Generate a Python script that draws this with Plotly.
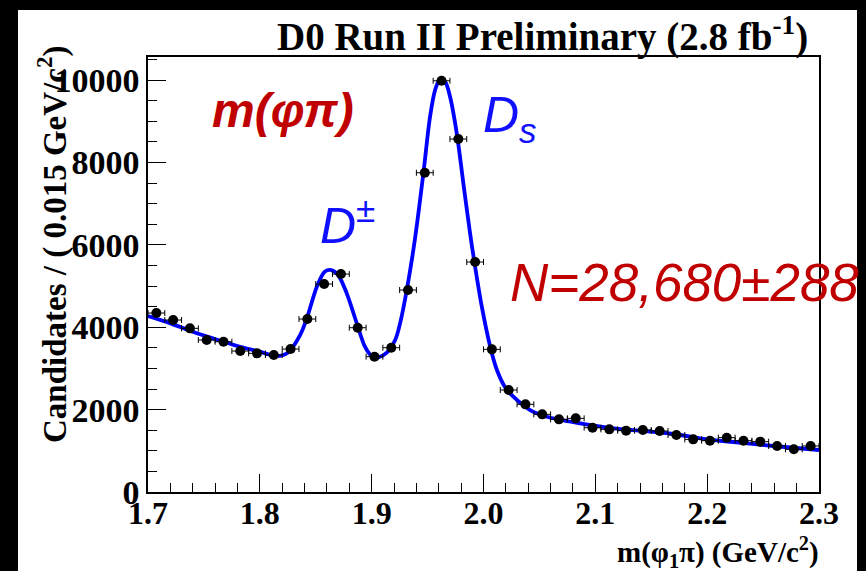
import plotly.graph_objects as go

# ---- data ----
bin_lo = 1.70
bin_width = 0.015
counts = [4345, 4175, 3973, 3689, 3648, 3422, 3366, 3325, 3471, 4199,
          5049, 5291, 3988, 3285, 3503, 4903, 7750, 9983, 8568, 5583,
          3463, 2476, 2128, 1885, 1764, 1788, 1561, 1521, 1489, 1505,
          1481, 1383, 1278, 1246, 1319, 1246, 1222, 1117, 1036, 1117]
bin_centers = [round(bin_lo + bin_width * (i + 0.5), 4) for i in range(len(counts))]
count_errors = [c ** 0.5 for c in counts]
half_widths = [bin_width / 2] * len(counts)

fit_x = [1.700, 1.720, 1.740, 1.760, 1.780, 1.800, 1.815, 1.825, 1.836, 1.842,
         1.851, 1.858, 1.864, 1.870, 1.8777, 1.8867, 1.894, 1.900, 1.906, 1.9135,
         1.921, 1.9254, 1.9314, 1.9388, 1.9463, 1.9522, 1.9567, 1.9612, 1.9657, 1.9701,
         1.9761, 1.982, 1.988, 1.9925, 1.9985, 2.006, 2.012, 2.019, 2.0267, 2.0417,
         2.0566, 2.0864, 2.1162, 2.140, 2.170, 2.1997, 2.2295, 2.2593, 2.300]
fit_y = [4270, 4094, 3891, 3713, 3544, 3406, 3300, 3381, 3810, 4215,
         4983, 5347, 5388, 5267, 4822, 4094, 3527, 3300, 3269, 3381,
         3689, 4094, 4903, 6160, 7750, 9110, 9757, 10024, 9960, 9595,
         8706, 7492, 6279, 5468, 4498, 3527, 2961, 2557, 2314, 1990,
         1828, 1667, 1546, 1488, 1408, 1279, 1197, 1117, 1019]

x_ticks = [1.7, 1.8, 1.9, 2.0, 2.1, 2.2, 2.3]
x_tick_text = ["1.7", "1.8", "1.9", "2.0", "2.1", "2.2", "2.3"]
y_ticks = [0, 2000, 4000, 6000, 8000, 10000]
y_tick_text = ["0", "2000", "4000", "6000", "8000", "10000"]

W, H = 866, 571
L, R, T, B = 148, 47, 57, 79
pw, ph = W - L - R, H - T - B

def px_x(p):
    return (p - L) / pw

def px_y(p):
    return (H - B - p) / ph

serif = "Liberation Serif"
sans = "Liberation Sans"

fig = go.Figure()
fig.add_trace(go.Scatter(
    x=fit_x, y=fit_y, mode="lines",
    line=dict(color="#0000ff", width=3.8, shape="spline", smoothing=0.9),
    hoverinfo="skip", showlegend=False))
fig.add_trace(go.Scatter(
    x=bin_centers, y=counts, mode="markers",
    marker=dict(color="black", size=10),
    error_x=dict(type="data", array=half_widths, color="black", thickness=1, width=3),
    error_y=dict(type="data", array=count_errors, color="black", thickness=1, width=0),
    showlegend=False))

fig.update_xaxes(range=[1.7, 2.3], tickvals=x_ticks, ticktext=x_tick_text,
                 ticks="inside", ticklen=18, tickwidth=1, tickcolor="black",
                 showline=True, linecolor="black", linewidth=1.5, mirror=True,
                 showgrid=False, zeroline=False, ticklabelstandoff=-8,
                 tickfont=dict(family=serif, size=32, color="black", weight="bold"),
                 minor=dict(dtick=0.02, ticks="inside", ticklen=9, tickcolor="black", showgrid=False))
fig.update_yaxes(range=[0, 10560], tickvals=y_ticks, ticktext=y_tick_text,
                 ticks="inside", ticklen=18, tickwidth=1, tickcolor="black",
                 showline=True, linecolor="black", linewidth=1.5, mirror=True,
                 showgrid=False, zeroline=False,
                 tickfont=dict(family=serif, size=34, color="black", weight="bold"),
                 minor=dict(dtick=500, ticks="inside", ticklen=9, tickcolor="black", showgrid=False))

shapes = [dict(type="rect", xref="paper", yref="paper", layer="below",
               x0=px_x(18), x1=px_x(857), y0=px_y(571), y1=px_y(10),
               fillcolor="white", line=dict(width=0))]

annotations = [
    dict(text="D0 Run II Preliminary (2.8 fb<sup>-1</sup>)", x=px_x(810), y=px_y(35),
         xanchor="right", yanchor="middle",
         font=dict(family=serif, size=39, color="black", weight="bold")),
    dict(text="Candidates / ( 0.015 GeV/c<sup>2</sup>)", x=px_x(52), y=px_y(245),
         textangle=-90, xanchor="center", yanchor="middle",
         font=dict(family=serif, size=33, color="black", weight="bold")),
    dict(text="m(\u03c6<sub>1</sub>\u03c0) (GeV/c<sup>2</sup>)", x=px_x(821), y=px_y(552),
         xanchor="right", yanchor="middle",
         font=dict(family=serif, size=29, color="black", weight="bold")),
    dict(text="<i><b>m(\u03c6\u03c0)</b></i>", x=px_x(283), y=px_y(110),
         xanchor="center", yanchor="middle",
         font=dict(family=sans, size=48, color="#c00000")),
    dict(text="<i>D<sub>s</sub></i>", x=px_x(481), y=px_y(118),
         xanchor="left", yanchor="middle",
         font=dict(family=sans, size=50, color="#1010ff")),
    dict(text="<i>D</i><sup>\u00b1</sup>", x=px_x(318), y=px_y(222),
         xanchor="left", yanchor="middle",
         font=dict(family=sans, size=50, color="#1010ff")),
    dict(text="<i>N=28,680\u00b1288</i>", x=px_x(508), y=px_y(282),
         xanchor="left", yanchor="middle",
         font=dict(family=sans, size=53, color="#c00000")),
]
for a in annotations:
    a.update(xref="paper", yref="paper", showarrow=False)

fig.update_layout(width=W, height=H, margin=dict(l=L, r=R, t=T, b=B),
                  paper_bgcolor="black", plot_bgcolor="white",
                  shapes=shapes, annotations=annotations)

fig.write_html("out.html")
